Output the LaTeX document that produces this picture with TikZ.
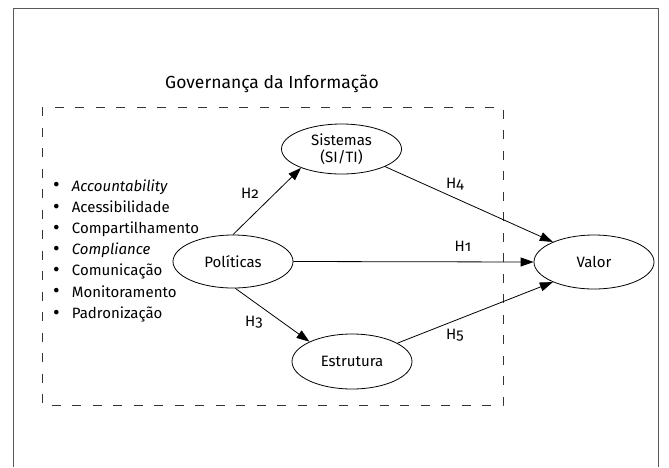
\documentclass[tikz,border=0pt]{standalone}
\usepackage{fontspec}
\setmainfont{Fira Sans}[Numbers=OldStyle]
\usetikzlibrary{arrows.meta,shapes.geometric}
\newcommand{\bul}{\makebox[18.7pt][l]{\raisebox{-0.8pt}{\scalebox{1.35}{\textbullet}}}}
\begin{document}
\begin{tikzpicture}[x=1pt,y=-1pt, font=\fontsize{15}{17}\selectfont,
  ell/.style={draw, ellipse, minimum width=120pt, minimum height=53pt, inner sep=0pt, line width=0.8pt, align=center},
  conn/.style={-{Triangle[length=13pt,width=9pt]}, line width=0.8pt},
  hlab/.style={inner sep=0pt},
  item/.style={anchor=base west, inner sep=0pt},
  frameline/.style={line width=0.9pt, black!65},
  dashbox/.style={line width=0.8pt, black!80, dash pattern=on 9pt off 11.5pt}]
\useasboundingbox (0,0) rectangle (669,467);
\draw[frameline] (13,467) -- (13,8) -- (658,8) -- (658,467);
\node[inner sep=0pt, font=\fontsize{17.5}{20}\selectfont] (title) at (272,84) {Governança da Informação};
\draw[dashbox] (42,107) rectangle (503,405);

\node[ell, minimum height=50pt] (sis) at (341.5,149) {Sistemas\\(SI/TI)};
\node[ell] (pol) at (233,261.5) {Políticas};
\node[ell, minimum height=55pt] (est) at (352,361.5) {Estrutura};
\node[ell, minimum height=54pt] (val) at (594,262) {Valor};

\draw[conn] (pol.north) -- (sis.205);
\draw[conn] (sis.-22) -- (val.154);
\draw[conn] (pol.east) -- (val.west);
\draw[conn] (pol.-85) -- (est.155);
\draw[conn] (est.22) -- (val.206);

\node[hlab] (h2) at (250,193) {H2};
\node[hlab] (h4) at (455,184) {H4};
\node[hlab] (h1) at (463,246) {H1};
\node[hlab] (h3) at (254,322) {H3};
\node[hlab] (h5) at (455,335) {H5};

\node[item] (i1) at (53,191) {\bul\textit{Accountability}};
\node[item] (i2) at (53,212.2) {\bul Acessibilidade};
\node[item] (i3) at (53,233.4) {\bul Compartilhamento};
\node[item] (i4) at (53,254.6) {\bul\textit{Compliance}};
\node[item] (i5) at (53,275.8) {\bul Comunicação};
\node[item] (i6) at (53,297) {\bul Monitoramento};
\node[item] (i7) at (53,318.2) {\bul Padronização};
\end{tikzpicture}
\end{document}
